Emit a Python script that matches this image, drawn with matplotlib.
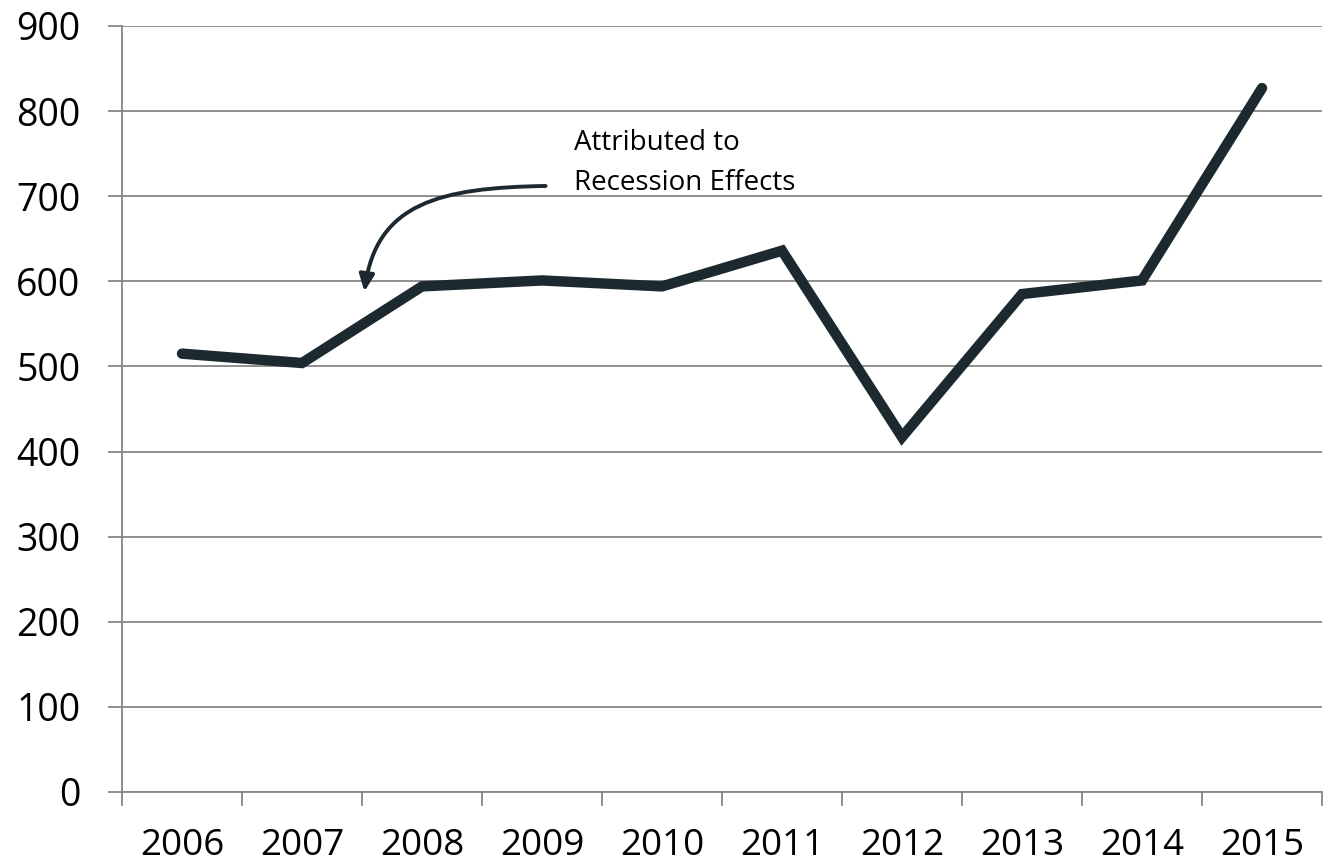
import matplotlib
matplotlib.use('Agg')
import matplotlib.pyplot as plt
from matplotlib.patches import FancyArrowPatch
from matplotlib.path import Path
import numpy as np

plt.rcParams['font.family'] = ['Open Sans', 'DejaVu Sans']

# data
years = ["2006", "2007", "2008", "2009", "2010", "2011", "2012", "2013", "2014", "2015"]
values = [515, 504, 594, 601, 594, 636, 417, 585, 601, 827]

line_color = '#1c2a30'
grid_color = '#868686'

fig = plt.figure(figsize=(13.32, 8.65), dpi=100)
ax = fig.add_axes([0.0916, 0.0844, 0.9009, 0.8856])

x = np.arange(len(years))
ax.plot(x, values, color=line_color, linewidth=7.5, solid_capstyle='round',
        solid_joinstyle='miter', zorder=3)

ax.set_xlim(-0.5, len(years) - 0.5)
ax.set_ylim(0, 900)

# y axis
ax.set_yticks(np.arange(0, 901, 100))
ax.yaxis.grid(True, color=grid_color, linewidth=1.3)
ax.tick_params(axis='y', length=10, width=1.3, color=grid_color, labelsize=27, pad=20)

# x axis: tick marks between categories, labels at centers
ax.set_xticks(np.arange(-0.5, len(years)), labels=[])
ax.set_xticks(x, labels=years, minor=True)
ax.tick_params(axis='x', which='major', length=10, width=1.3, color=grid_color, direction='out')
ax.tick_params(axis='x', which='minor', length=0, labelsize=26.5, pad=26)

for s in ['top', 'right']:
    ax.spines[s].set_visible(False)
for s in ['left', 'bottom']:
    ax.spines[s].set_color(grid_color)
    ax.spines[s].set_linewidth(1.3)

# curved arrow for the note
curve = Path([(3.03, 712), (2.15, 710), (1.62, 692), (1.52, 588)],
             [Path.MOVETO, Path.CURVE4, Path.CURVE4, Path.CURVE4])
arrow = FancyArrowPatch(path=curve, arrowstyle='-|>,head_length=1.0,head_width=0.45',
                        color=line_color, linewidth=2.8, mutation_scale=10,
                        transform=ax.transData, zorder=4)
ax.add_patch(arrow)
ax.text(3.27, 739, "Attributed to\nRecession Effects", fontsize=20,
        ha='left', va='center', linespacing=1.55)

fig.savefig('out.png', dpi=100)
